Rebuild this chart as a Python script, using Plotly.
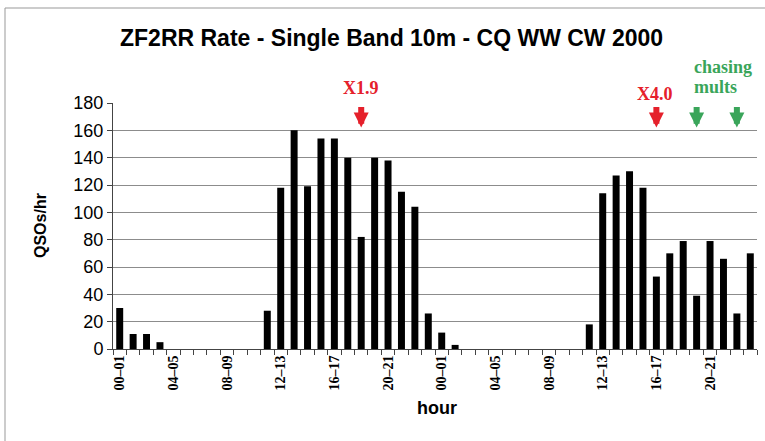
import plotly.graph_objects as go

hours = list(range(48))
qsos = [30, 11, 11, 5, 0, 0, 0, 0, 0, 0, 0, 28,
        118, 160, 119, 154, 154, 140, 82, 140, 138, 115, 104, 26,
        12, 3, 0, 0, 0, 0, 0, 0, 0, 0, 0, 18,
        114, 127, 130, 118, 53, 70, 79, 39, 79, 66, 26, 70]
tick_hours = [0, 4, 8, 12, 16, 20, 24, 28, 32, 36, 40, 44]
tick_labels = ["00–01", "04–05", "08–09", "12–13", "16–17", "20–21",
               "00–01", "04–05", "08–09", "12–13", "16–17", "20–21"]
red_arrow_hours = [18, 40]
green_arrow_hours = [43, 46]
arrow_tip = 162

RED = "#e5202b"
GREEN = "#3aa55a"
serif = "Liberation Serif"


def px_x(p):
    return (p - 113) / 644


def px_y(p):
    return (349 - p) / 246


def hx(h):
    return (h + 0.5) / 48


fig = go.Figure()
fig.add_trace(go.Bar(x=hours, y=qsos, marker=dict(color="black", line=dict(width=0)),
                     showlegend=False))

annotations = []
for h in red_arrow_hours:
    annotations.append(dict(x=h, y=arrow_tip, xref="x", yref="y", text="", showarrow=True,
                            ax=0, ay=-22, arrowcolor=RED, arrowwidth=6,
                            arrowhead=2, arrowsize=0.5))
for h in green_arrow_hours:
    annotations.append(dict(x=h, y=arrow_tip, xref="x", yref="y", text="", showarrow=True,
                            ax=0, ay=-22, arrowcolor=GREEN, arrowwidth=6,
                            arrowhead=2, arrowsize=0.5))


def label(x, y, text, font, xanchor="center", angle=0):
    return dict(x=x, y=y, xref="paper", yref="paper", text=text, showarrow=False,
                xanchor=xanchor, yanchor="middle", textangle=angle, font=font)


annotations += [
    label(hx(red_arrow_hours[0]), px_y(88), "<b>X1.9</b>",
          dict(family=serif, size=18, color=RED)),
    label(hx(red_arrow_hours[1]) - 0.002, px_y(94), "<b>X4.0</b>",
          dict(family=serif, size=18, color=RED)),
    label(px_x(692), px_y(67), "<b>chasing</b>",
          dict(family=serif, size=18, color=GREEN), xanchor="left"),
    label(px_x(692), px_y(87), "<b>mults</b>",
          dict(family=serif, size=18, color=GREEN), xanchor="left"),
    label(px_x(391), px_y(38), "<b>ZF2RR Rate - Single Band 10m - CQ WW CW 2000</b>",
          dict(family="Liberation Sans", size=23, color="black")),
    label(px_x(437), px_y(408), "<b>hour</b>",
          dict(family="Liberation Sans", size=18, color="black")),
    label(px_x(40), px_y(226), "<b>QSOs/hr</b>",
          dict(family="Liberation Sans", size=16, color="black"), angle=-90),
]

fig.update_layout(
    width=765, height=441,
    margin=dict(l=113, r=8, t=103, b=92),
    paper_bgcolor="white", plot_bgcolor="white",
    bargap=0.48,
    annotations=annotations,
    shapes=[
        dict(type="line", xref="paper", yref="paper", x0=px_x(5), x1=px_x(765),
             y0=px_y(8), y1=px_y(8), line=dict(color="#999999", width=1)),
        dict(type="line", xref="paper", yref="paper", x0=px_x(5), x1=px_x(5),
             y0=px_y(8), y1=px_y(441), line=dict(color="#999999", width=1)),
    ],
)
fig.update_xaxes(range=[-0.5, 47.5], tickmode="array", tickvals=tick_hours,
                 ticktext=["<b>" + t + "</b>" for t in tick_labels],
                 tickangle=-90, ticks="", showgrid=False, zeroline=False,
                 showline=True, linecolor="#444444", linewidth=1,
                 tickfont=dict(family=serif, size=14, color="black"),
                 minor=dict(tick0=-0.5, dtick=1, ticks="outside", ticklen=5,
                            tickcolor="#444444", showgrid=False))
fig.update_yaxes(range=[0, 180], dtick=20, showgrid=True, gridcolor="#8c8c8c", gridwidth=1,
                 zeroline=False, showline=True, linecolor="#444444", linewidth=1,
                 ticks="outside", ticklen=5, tickcolor="#444444",
                 tickfont=dict(family="Liberation Sans", size=18, color="black"))
fig.write_html("out.html", config={"displayModeBar": False},
               post_script="document.body.style.margin='0';")
